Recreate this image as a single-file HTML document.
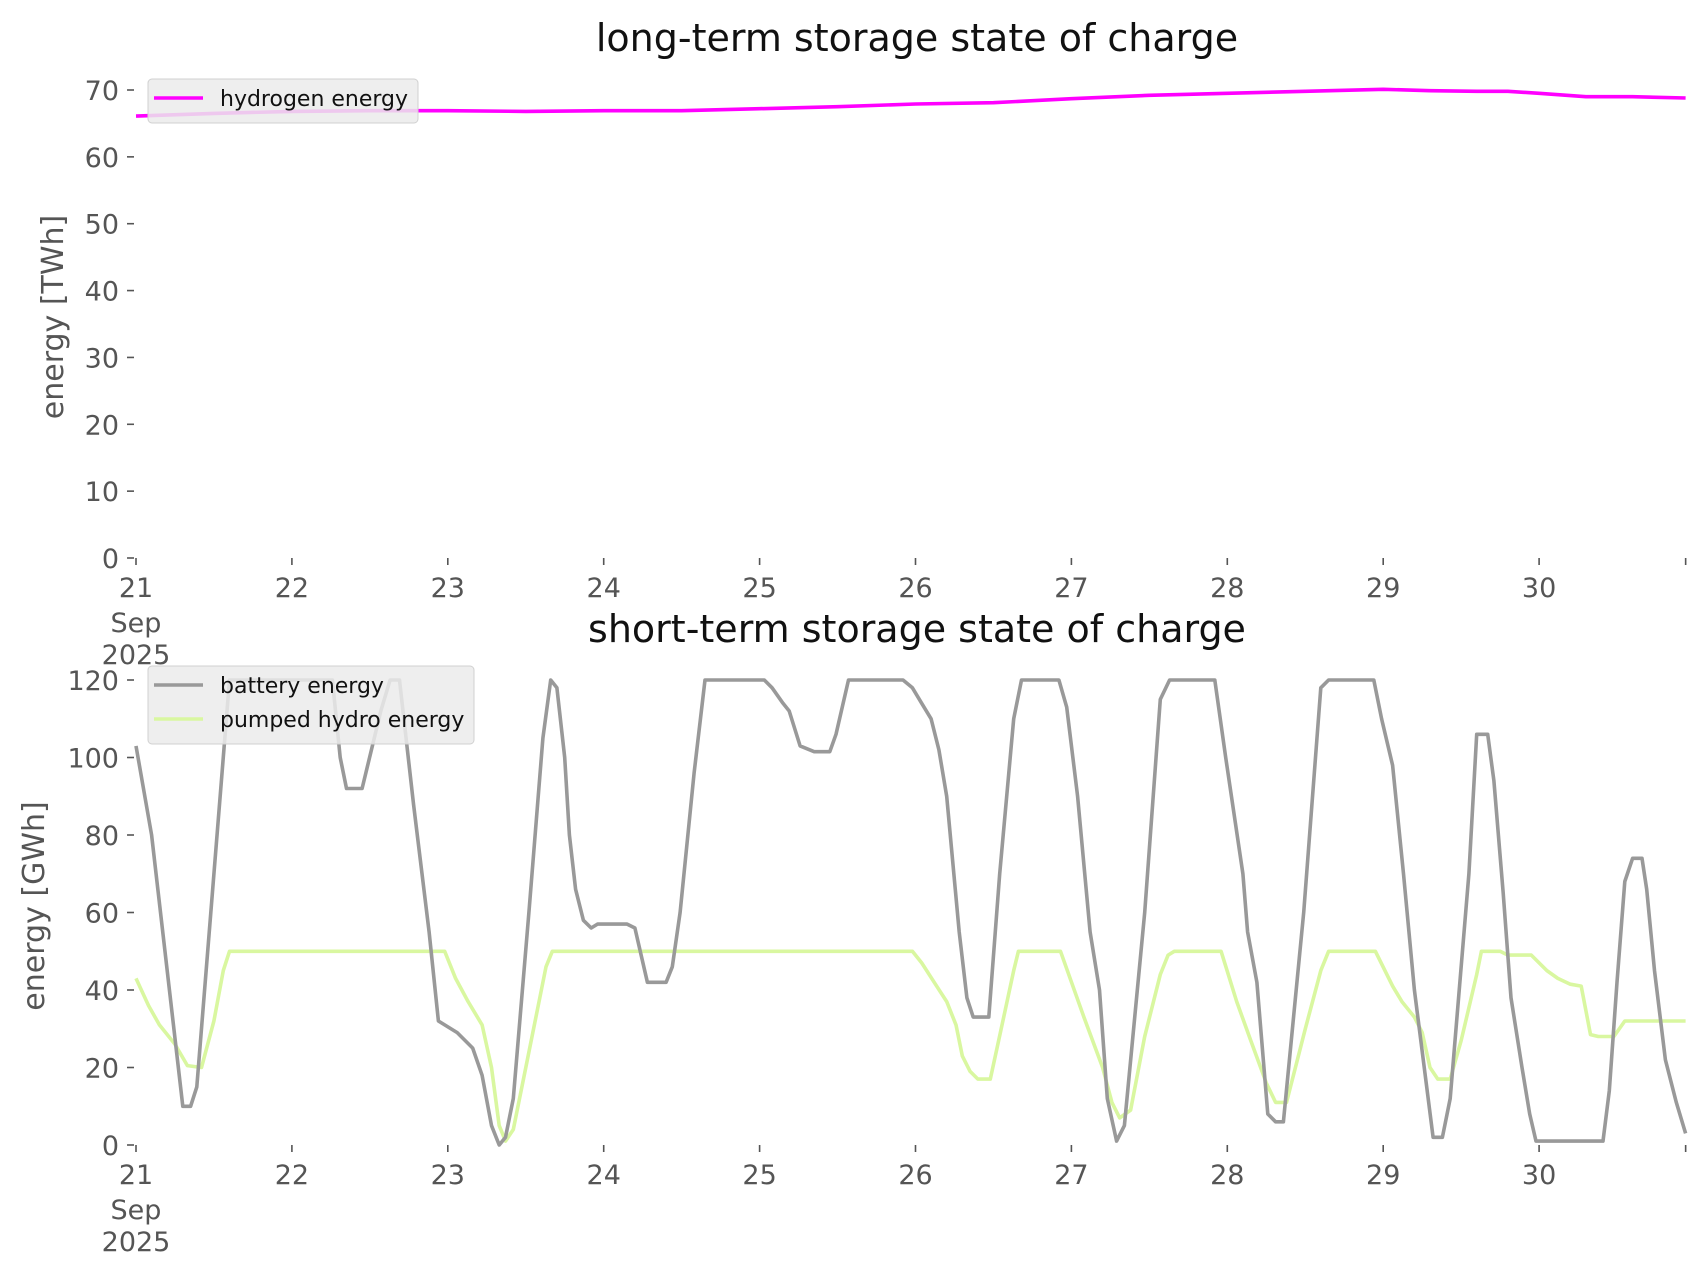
<!DOCTYPE html>
<html><head><meta charset="utf-8"><style>
html,body{margin:0;padding:0;background:#fff}
svg{display:block;font-family:"DejaVu Sans","Liberation Sans",sans-serif}
</style></head><body>
<svg id="chart" width="1706" height="1277" viewBox="0 0 1706 1277"></svg>
<script>
// ---- data (days since 21 Sep 2025 00:00) ----
const dayTicks = ["21","22","23","24","25","26","27","28","29","30"];
const topYTicks = [0,10,20,30,40,50,60,70];
const botYTicks = [0,20,40,60,80,100,120];
const h2Days = [0,0.5,1,1.5,2,2.5,3,3.5,4,4.5,5,5.5,6,6.5,7,7.5,8,8.3,8.6,8.8,9,9.3,9.6,9.94];
const h2Vals = [66.1,66.5,66.8,66.9,66.9,66.8,66.9,66.9,67.2,67.5,67.9,68.1,68.7,69.2,69.5,69.8,70.1,69.9,69.8,69.8,69.5,69.0,69.0,68.8];
const batDays = [0,0.1,0.3,0.35,0.39,0.6,1.26,1.31,1.35,1.45,1.57,1.63,1.69,1.78,1.88,1.94,2.06,2.16,2.22,2.28,2.33,2.37,2.42,2.52,2.61,2.66,2.7,2.75,2.78,2.82,2.87,2.92,2.96,3.15,3.2,3.28,3.4,3.44,3.49,3.58,3.65,4.03,4.08,4.15,4.19,4.26,4.35,4.45,4.49,4.57,4.92,4.98,5.04,5.1,5.15,5.2,5.28,5.33,5.37,5.47,5.54,5.63,5.68,5.92,5.97,6.04,6.12,6.18,6.23,6.29,6.34,6.47,6.57,6.63,6.92,6.99,7.1,7.13,7.19,7.26,7.31,7.36,7.49,7.6,7.65,7.94,7.99,8.06,8.13,8.2,8.32,8.38,8.43,8.55,8.6,8.67,8.71,8.77,8.82,8.89,8.94,8.98,9.41,9.45,9.5,9.55,9.6,9.66,9.69,9.74,9.81,9.88,9.94];
const batVals = [103,80,10,10,15,120,120,100,92,92,112,120,120,88,55,32,29,25,18,5,0,2,12,60,105,120,118,100,80,66,58,56,57,57,56,42,42,46,60,96,120,120,118,114,112,103,101.5,101.5,106,120,120,118,114,110,102,90,55,38,33,33,70,110,120,120,113,90,55,40,12,1,5,60,115,120,120,100,70,55,42,8,6,6,60,118,120,120,110,98,70,40,2,2,12,70,106,106,94,65,38,20,8,1,1,14,42,68,74,74,66,45,22,11,3];
const phDays = [0,0.08,0.15,0.25,0.33,0.42,0.5,0.56,0.6,1.98,2.05,2.13,2.22,2.28,2.33,2.37,2.42,2.5,2.59,2.63,2.67,4.98,5.04,5.12,5.2,5.26,5.3,5.35,5.4,5.48,5.55,5.63,5.66,5.93,6.08,6.2,6.26,6.31,6.38,6.47,6.57,6.62,6.66,6.96,7.06,7.15,7.25,7.31,7.38,7.5,7.6,7.65,7.95,8.06,8.12,8.2,8.25,8.3,8.35,8.43,8.5,8.6,8.63,8.75,8.8,8.95,9.05,9.12,9.2,9.27,9.33,9.38,9.48,9.55,9.94];
const phVals = [43,36,31,26,20.5,20,32,45,50,50,43,37,31,20,5,1,4,20,38,46,50,50,47,42,37,31,23,19,17,17,30,45,50,50,33,20,11,7,9,28,44,49,50,50,37,27,16,11,11,30,45,50,50,41,37,33,29,20,17,17,27,44,50,50,49,49,45,43,41.5,41,28.5,28,28,32,32];

const NS="http://www.w3.org/2000/svg";
const svg=document.getElementById('chart');
function mk(tag,attrs,parent,text){const e=document.createElementNS(NS,tag);for(const k in attrs)e.setAttribute(k,attrs[k]);if(text!==undefined)e.textContent=text;(parent||svg).appendChild(e);return e;}
const X0=136, DAYW=155.9;
const xs=d=>X0+d*DAYW;
const topY=v=>558-(v/70)*(558-90);
const botY=v=>1145-(v/120)*(1145-680);

function axis(name,yfn,yticks,y0,labelY){
  const g=mk('g',{});
  
  
  yticks.forEach(t=>{
    const y=yfn(t);
    const l=mk('line',{x1:127,x2:134,y1:y,y2:y,stroke:'#555','stroke-width':1.6},g);
    
    const tx=mk('text',{x:119,y:y+10,'text-anchor':'end','font-size':27,fill:'#555'},g,String(t));
    
  });
  const ends=dayTicks.map((_,i)=>i).concat([9.94]);
  ends.forEach((d,i)=>{
    const x=xs(d);
    const l=mk('line',{x1:x,x2:x,y1:y0+6,y2:y0+13,stroke:'#555','stroke-width':1.6},g);
    
    if(i<dayTicks.length){
      const tx=mk('text',{x:x,y:labelY,'text-anchor':'middle','font-size':27,fill:'#555'},g,dayTicks[i]);
      
      if(i===0){
        const a=mk('text',{x:x,y:labelY+35,'text-anchor':'middle','font-size':27,fill:'#555'},g,'Sep');
        
        const b=mk('text',{x:x,y:labelY+67,'text-anchor':'middle','font-size':27,fill:'#555'},g,'2025');
        
      }
    }
  });
}
function line(name,days,vals,yfn,color){
  const p=days.map((d,i)=>(i?'L':'M')+xs(d).toFixed(1)+','+yfn(vals[i]).toFixed(1)).join('');
  const e=mk('path',{d:p,fill:'none',stroke:color,'stroke-width':3.6,'stroke-linejoin':'round'});
  
  
}
function legend(name,x,y,w,entries){
  const g=mk('g',{});
  
  
  mk('rect',{x:x,y:y,width:w,height:10+entries.length*34,rx:4,fill:'#ebebeb','fill-opacity':0.85,stroke:'#d0d0d0','stroke-width':1},g);
  entries.forEach((en,i)=>{
    const cy=y+19+i*34;
    mk('line',{x1:x+6,x2:x+55,y1:cy,y2:cy,stroke:en[1],'stroke-width':3.6},g);
    const t=mk('text',{x:x+72,y:cy+8,'font-size':22,fill:'#111'},g,en[0]);
    
  });
}

// titles
let t=mk('text',{x:917,y:51,'text-anchor':'middle','font-size':38,fill:'#111'},svg,'long-term storage state of charge');

t=mk('text',{x:917,y:642,'text-anchor':'middle','font-size':38,fill:'#111'},svg,'short-term storage state of charge');

t=mk('text',{x:0,y:0,'text-anchor':'middle','font-size':30,fill:'#555',transform:'translate(63,317) rotate(-90)'},svg,'energy [TWh]');

t=mk('text',{x:0,y:0,'text-anchor':'middle','font-size':30,fill:'#555',transform:'translate(44,906) rotate(-90)'},svg,'energy [GWh]');


axis('top',topY,topYTicks,552,597);
axis('bottom',botY,botYTicks,1139,1184);

line('hydrogen-energy-line',h2Days,h2Vals,topY,'#ff00ff');
line('pumped-hydro-energy-line',phDays,phVals,botY,'#d9f7a0');
line('battery-energy-line',batDays,batVals,botY,'#999999');

legend('top-legend',148,79,270,[['hydrogen energy','#ff00ff']]);
legend('bottom-legend',148,666,326,[['battery energy','#999999'],['pumped hydro energy','#d9f7a0']]);
</script>
</body></html>
